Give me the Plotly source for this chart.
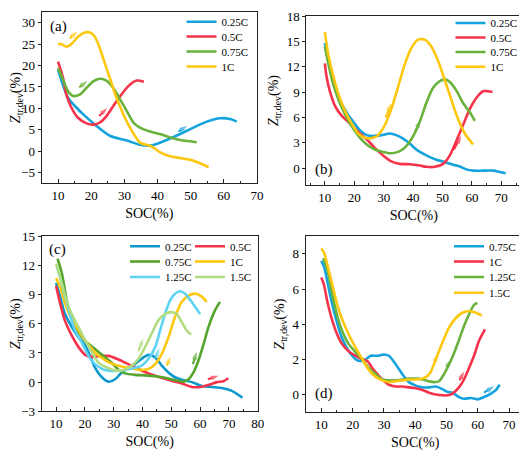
import plotly.graph_objects as go

# ---------------- data: panel (a) ----------------
a_soc_025 = [10, 13, 15.5, 17.6, 21.6, 25.6, 30.7, 34.7, 37.7, 39.7, 42.8, 46.8, 50.8, 54.9, 58.9, 61.9, 63.9]
a_z_025 = [19, 12.5, 10.2, 8.6, 5.9, 3.6, 2.5, 1.5, 1.3, 1.7, 2.6, 4, 5.5, 6.9, 7.7, 7.5, 6.9]
a_soc_05 = [10, 11.5, 12.5, 14, 16, 18.6, 20.6, 22.6, 24.6, 26.6, 28.7, 31.2, 33.7, 35.9]
a_z_05 = [20.9, 17.1, 13.2, 10.2, 7.8, 6.5, 6.2, 6.7, 8.2, 10.5, 12.8, 15.2, 16.5, 16.2]
a_soc_075 = [10, 11.5, 13, 14.5, 16.5, 18.6, 20.6, 22.6, 24.6, 26.6, 28.7, 30.7, 32.7, 34.7, 37.7, 40.7, 43.8, 46.8, 49.8, 51.8]
a_z_075 = [19.4, 16.7, 14, 12.9, 13.2, 14.8, 16.3, 16.9, 16.5, 14.8, 12.1, 9.4, 6.7, 5.5, 4.6, 4, 3.2, 2.6, 2.3, 2.1]
a_soc_1 = [10, 11, 12.5, 14, 16, 18.1, 19.6, 21.1, 22.6, 24.1, 25.6, 27.6, 29.7, 31.7, 34.7, 38.2, 40.7, 43.8, 46.8, 49.8, 52.8, 55.4]
a_z_1 = [25, 25, 24.4, 25, 26.7, 27.7, 27.7, 26.7, 24, 20.5, 17.1, 12.5, 8.6, 5.5, 2, 1.1, -0.2, -1.2, -1.6, -2, -2.8, -3.7]

# ---------------- data: panel (b) ----------------
b_soc_025 = [10, 11.1, 12.8, 15.1, 17.4, 19.6, 21.9, 24.2, 26.4, 29.3, 32.1, 34.3, 36.6, 38.9, 41.1, 43.4, 45.7, 47.9, 50.8, 53.6, 55.9, 58.1, 60.4, 63.8, 67.2, 69.5, 71.5]
b_z_025 = [14.8, 13.1, 10.4, 8.1, 6.6, 5.5, 4.5, 3.9, 3.8, 3.9, 4.1, 3.9, 3.5, 2.9, 2.2, 1.7, 1.3, 1.0, 0.7, 0.4, 0.2, -0.15, -0.3, -0.3, -0.3, -0.45, -0.6]
b_soc_05 = [10, 10.6, 11.7, 13.4, 15.7, 18.5, 21.3, 24.2, 27, 29.8, 32.6, 35.5, 38.9, 42.3, 44.5, 47.4, 50.2, 52.5, 54.7, 57, 59.3, 61.5, 63.8, 65.5, 67]
b_z_05 = [12.4, 10.8, 9.1, 7.4, 6.2, 5.3, 4.3, 3.4, 2.4, 1.5, 0.8, 0.5, 0.45, 0.3, 0.15, 0.15, 0.5, 1.5, 3.2, 5.1, 7.0, 8.3, 9.1, 9.1, 9.0]
b_soc_075 = [10, 11.1, 12.8, 15.1, 17.4, 19.6, 21.9, 24.2, 27, 29.8, 32.6, 35.5, 37.7, 40, 42.3, 44.5, 46.8, 49.1, 50.8, 52.5, 54.7, 57, 59.3, 61]
b_z_075 = [14.4, 12.5, 10, 7.7, 6, 4.7, 3.6, 2.8, 2.2, 1.9, 1.75, 2, 2.6, 3.75, 5.5, 7.7, 9.5, 10.3, 10.5, 10.2, 9.2, 7.7, 6.6, 5.6]
b_soc_1 = [10, 11.1, 12.8, 14.5, 16.8, 19.1, 21.3, 23.6, 25.9, 28.1, 30.4, 32.6, 34.9, 37.2, 39.4, 41.7, 44, 46.2, 48.5, 50.8, 53, 55.3, 57.6, 60.4]
b_z_1 = [16.1, 13.6, 11, 8.9, 6.8, 5.3, 4.1, 3.6, 3.55, 3.9, 5.1, 7, 9.6, 12.3, 14.2, 15.2, 15.2, 14.4, 12.7, 10.4, 8.1, 5.8, 4.1, 2.8]

# ---------------- data: panel (c) ----------------
c_soc_025 = [10, 11.4, 13.1, 15.4, 17.8, 20.1, 21.8, 23.5, 25.9, 28.2, 30.5, 32.8, 35.1, 37.4, 39.7, 42.1, 44.4, 46.7, 49, 51.3, 54.2, 57.1, 60.6, 64, 67.5, 71, 74.7]
c_z_025 = [10.2, 8.8, 7, 5.7, 4.6, 3.8, 2.7, 1.5, 0.5, 0.05, 0.3, 1, 1.5, 1.85, 2.4, 2.8, 2.55, 1.7, 1, 0.5, 0.2, 0, -0.4, -0.5, -0.6, -0.9, -1.6]
c_soc_05 = [10, 11.4, 13.1, 15.4, 17.8, 20.1, 22.4, 25.9, 28.2, 31.1, 34, 36.9, 39.7, 42.6, 45.5, 48.4, 51.3, 54.2, 57.1, 60, 62.9, 65.8, 68.1, 69.8]
c_z_05 = [9.9, 8.1, 6.3, 4.8, 3.6, 2.8, 2.6, 2.7, 2.7, 2.4, 2, 1.6, 1.2, 0.85, 0.55, 0.3, 0.05, -0.2, -0.5, -0.5, -0.3, 0, 0.1, 0.4]
c_soc_075 = [10.5, 12, 13.7, 15.4, 17.8, 20.6, 23.5, 26.4, 29.3, 31.6, 33.9, 37.4, 40.9, 44.4, 47.8, 51.3, 54.2, 56, 57.7, 59.4, 61.2, 62.9, 65.2, 66.9]
c_z_075 = [12.7, 11.2, 8.4, 6.5, 5.1, 4.1, 3.4, 2.7, 2, 1.3, 0.9, 0.75, 0.7, 0.6, 0.45, 0.2, 0.05, 0.3, 1, 2.2, 3.9, 5.65, 7.4, 8.25]
c_soc_1 = [10, 11.4, 13.1, 15.4, 17.8, 20.6, 23.5, 26.4, 29.3, 32.8, 36.3, 39.7, 42.1, 44.4, 46.7, 49, 51.3, 53.6, 56, 58.3, 60.6, 62.3]
c_z_1 = [10.7, 9.8, 8.1, 6.5, 5.3, 4.1, 3.05, 2.4, 1.9, 1.6, 1.4, 1.25, 1.35, 1.85, 2.9, 4.6, 6.7, 8.25, 8.9, 9.1, 8.8, 8.25]
c_soc_125 = [10.2, 11.4, 13.1, 14.9, 16.6, 18.9, 21.2, 23.5, 26.4, 29.3, 32.8, 36.3, 39.7, 42.1, 44.4, 46.1, 47.8, 49.6, 51.3, 53.1, 54.8, 57.1, 60]
c_z_125 = [11.9, 10.8, 8.8, 6.9, 5.3, 4.1, 2.7, 1.85, 1.3, 1.15, 1.2, 1.4, 1.7, 2.4, 3.6, 5.3, 7, 8.4, 9.1, 9.35, 9.1, 8.25, 7]
c_soc_15 = [10, 11.4, 13.1, 15.4, 17.8, 20.1, 22.4, 24.7, 27.6, 30.5, 33.9, 36.3, 38.6, 40.9, 43.2, 45.5, 47.8, 50.2, 51.9, 53.6, 55.4, 56.9]
c_z_15 = [12.2, 10.85, 8.9, 7, 5.65, 4.3, 3.1, 2, 1.5, 1.2, 1.3, 1.7, 2.4, 3.6, 5, 6.35, 7, 7.2, 7, 6.2, 5.3, 4.9]

# ---------------- data: panel (d) ----------------
d_soc_075 = [10, 10.9, 11.9, 13, 14.6, 16.2, 17.8, 19.4, 21, 22.6, 24.2, 25.8, 27.9, 30, 31.6, 33.8, 35.9, 38, 40.2, 42.3, 44.4, 46.6, 48.7, 50.3, 51.9, 54, 55.6, 57.8, 59.9, 62, 64.2, 65.8, 67]
d_z_075 = [7.6, 7.25, 6.45, 5.5, 4.35, 3.4, 2.75, 2.3, 2, 1.9, 2, 2.2, 2.2, 2.27, 2.2, 1.7, 1.15, 0.7, 0.5, 0.4, 0.4, 0.45, 0.3, 0.15, 0.1, -0.15, -0.25, -0.2, -0.28, -0.15, 0.05, 0.25, 0.55]
d_soc_1 = [10, 10.9, 11.9, 13.5, 15.1, 16.7, 18.8, 21, 23.1, 24.7, 26.3, 27.9, 29.5, 31.6, 33.8, 35.9, 38, 40.2, 42.3, 44.4, 46.6, 48.7, 50.3, 51.9, 54, 55.6, 57.2, 58.8, 60.4, 62.3]
d_z_1 = [6.65, 6.2, 5.3, 4.2, 3.4, 2.85, 2.45, 2.2, 2, 1.9, 1.5, 1.15, 0.85, 0.55, 0.45, 0.45, 0.4, 0.35, 0.25, 0.1, 0, -0.05, -0.05, 0.05, 0.4, 0.85, 1.5, 2.2, 3.05, 3.7]
d_soc_125 = [10.6, 11.4, 12.5, 13.5, 15.1, 16.7, 18.8, 21, 23.1, 25.2, 27.4, 29.5, 31.6, 33.8, 35.9, 38, 40.2, 42.3, 44.4, 46, 47.6, 49.2, 50.8, 52.4, 54, 55.6, 57.2, 58.8, 59.9]
d_z_125 = [7.75, 7.4, 6.65, 5.7, 4.45, 3.6, 2.85, 2.4, 2, 1.5, 1.15, 0.85, 0.8, 0.8, 0.85, 0.9, 0.9, 0.85, 0.75, 0.7, 0.75, 1.15, 1.7, 2.35, 3.1, 3.9, 4.55, 5.1, 5.2]
d_soc_15 = [10, 10.9, 11.9, 13.5, 15.1, 16.7, 18.8, 21, 23.1, 25.2, 27.4, 29.5, 31.6, 33.8, 35.9, 38, 40.2, 42.3, 43.9, 45, 46.6, 48.7, 50.8, 53, 55.1, 57.2, 59.4, 61.3]
d_z_15 = [8.3, 8.05, 7.4, 6.25, 5.1, 4.25, 3.4, 2.65, 2, 1.4, 1, 0.8, 0.7, 0.75, 0.8, 0.85, 0.85, 0.9, 1.05, 1.3, 2, 2.95, 3.8, 4.35, 4.65, 4.75, 4.65, 4.5]

# colours
C_BLUE, C_RED, C_GREEN, C_YELLOW = "#14a3dc", "#f5334a", "#69b23c", "#fdc70e"
C_BLUE_D, C_GREEN_D, C_CYAN, C_LGREEN = "#0e98cc", "#55a52c", "#5fd3f2", "#b3dc82"

# direction arrows: (colour, tail_x, tail_y, head_x, head_y)
arrows_a = [(C_YELLOW, 13.5, 26.3, 15.8, 28.0), (C_GREEN, 16.4, 14.9, 18.8, 16.4),
            (C_RED, 22.4, 8.2, 24.8, 10.1), (C_BLUE, 46.3, 4.6, 48.9, 5.9)]
arrows_b = [(C_YELLOW, 30.7, 6.0, 32.6, 7.7), (C_GREEN, 40.6, 4.25, 42.5, 5.7),
            (C_RED, 53.9, 2.2, 56.4, 3.8)]
arrows_c = [(C_LGREEN, 38.6, 3.2, 40.3, 4.5), (C_CYAN, 44.6, 2.5, 45.8, 3.5),
            (C_YELLOW, 48.4, 1.7, 49.8, 2.6), (C_GREEN_D, 57.5, 1.85, 58.8, 3.1),
            (C_RED, 62.7, 0.3, 66.4, 0.65)]
arrows_d = [(C_YELLOW, 46.0, 1.8, 47.3, 2.3), (C_GREEN, 50.0, 1.55, 51.6, 2.0),
            (C_RED, 54.2, 0.8, 55.6, 1.3), (C_BLUE, 62.0, 0.1, 65.2, 0.47)]

# ---------------- figure ----------------
OFF = 8                      # default page margin around the plot div
W, H = 527 - OFF, 455 - OFF
FONT = "Liberation Serif"
fig = go.Figure()


def fx(px):
    return (px - OFF) / W


def fy(py):
    return 1 - (py - OFF) / H


# panel boxes in window pixels: (left, right, top, bottom)
panels = {
    1: (41.5, 257.0, 12.0, 183.3),
    2: (306.3, 521.3, 16.0, 185.0),
    3: (41.7, 257.7, 236.3, 411.3),
    4: (305.7, 524.7, 236.3, 412.0),
}

series = [
    # panel, x, y, name, colour, legend left px, legend row y px
    (1, a_soc_025, a_z_025, "0.25C", C_BLUE, 181.5, 21.7),
    (1, a_soc_05, a_z_05, "0.5C", C_RED, 181.5, 36.5),
    (1, a_soc_075, a_z_075, "0.75C", C_GREEN, 181.5, 51.5),
    (1, a_soc_1, a_z_1, "1C", C_YELLOW, 181.5, 66.5),
    (2, b_soc_025, b_z_025, "0.25C", C_BLUE, 450.5, 23.0),
    (2, b_soc_05, b_z_05, "0.5C", C_RED, 450.5, 37.5),
    (2, b_soc_075, b_z_075, "0.75C", C_GREEN, 450.5, 52.0),
    (2, b_soc_1, b_z_1, "1C", C_YELLOW, 450.5, 66.8),
    (3, c_soc_025, c_z_025, "0.25C", C_BLUE_D, 125.0, 246.3),
    (3, c_soc_05, c_z_05, "0.5C", C_RED, 190.0, 246.3),
    (3, c_soc_075, c_z_075, "0.75C", C_GREEN_D, 125.0, 261.5),
    (3, c_soc_1, c_z_1, "1C", C_YELLOW, 190.0, 261.5),
    (3, c_soc_125, c_z_125, "1.25C", C_CYAN, 125.0, 277.0),
    (3, c_soc_15, c_z_15, "1.5C", C_LGREEN, 190.0, 277.0),
    (4, d_soc_075, d_z_075, "0.75C", C_BLUE, 449.0, 246.3),
    (4, d_soc_1, d_z_1, "1C", C_RED, 449.0, 261.5),
    (4, d_soc_125, d_z_125, "1.25C", C_GREEN, 449.0, 277.0),
    (4, d_soc_15, d_z_15, "1.5C", C_YELLOW, 449.0, 292.7),
]

layout_legends = {}
for i, (p, xs, ys, name, col, lx, ly) in enumerate(series):
    lg = "legend" if i == 0 else f"legend{i + 1}"
    ax = "" if p == 1 else str(p)
    fig.add_trace(go.Scatter(
        x=xs, y=ys, name=name, mode="lines",
        line=dict(color=col, width=2.6, shape="spline", smoothing=0.7),
        xaxis="x" + ax, yaxis="y" + ax, legend=lg, showlegend=True))
    layout_legends[lg] = dict(
        x=fx(lx), y=fy(ly), xanchor="left", yanchor="middle",
        bgcolor="rgba(0,0,0,0)", borderwidth=0, itemwidth=30,
        font=dict(family=FONT, size=11, color="black"), tracegroupgap=0)

# direction arrows drawn as short lines ending with an arrow marker
for p, arr in [(1, arrows_a), (2, arrows_b), (3, arrows_c), (4, arrows_d)]:
    ax = "" if p == 1 else str(p)
    for col, x0, y0, x1, y1 in arr:
        fig.add_trace(go.Scatter(
            x=[x0, x1], y=[y0, y1], mode="lines+markers", showlegend=False, hoverinfo="skip",
            line=dict(color=col, width=2),
            marker=dict(symbol="arrow", size=[0, 8], angleref="previous", color=col,
                        line=dict(width=0)),
            xaxis="x" + ax, yaxis="y" + ax))

x_ranges = {1: [5, 70], 2: [3.7, 76.8], 3: [5, 80], 4: [5, 75]}
y_ranges = {1: [-7.5, 32.5], 2: [-2, 18], 3: [-3, 15], 4: [-1, 9]}
y_dticks = {1: 5, 2: 3, 3: 3, 4: 2}

layout = dict(width=W, height=H, margin=dict(l=0, r=0, t=0, b=0, autoexpand=False),
              paper_bgcolor="white", plot_bgcolor="white",
              font=dict(family=FONT, size=13, color="black"))
for p, (l, r, t, b) in panels.items():
    sfx = "" if p == 1 else str(p)
    layout["xaxis" + sfx] = dict(
        domain=[fx(l), fx(r)], anchor="y" + sfx, range=x_ranges[p], automargin=False,
        dtick=10, tick0=0, ticks="inside", ticklen=4, tickcolor="#222",
        minor=dict(ticks="inside", ticklen=2, dtick=5, tick0=0, tickcolor="#222", showgrid=False),
        showline=True, linecolor="#222", linewidth=1, mirror=True,
        showgrid=False, zeroline=False, ticklabeloverflow="allow",
        tickfont=dict(family=FONT, size=13, color="black"),
        title=dict(text="SOC(%)", font=dict(family=FONT, size=14, color="black"), standoff=6))
    layout["yaxis" + sfx] = dict(
        domain=[fy(b), fy(t)], anchor="x" + sfx, range=y_ranges[p], automargin=False,
        dtick=y_dticks[p], tick0=0, ticks="outside", ticklen=3, tickcolor="#222",
        showline=True, linecolor="#222", linewidth=1, mirror=True,
        showgrid=False, zeroline=False, ticklabeloverflow="allow",
        tickfont=dict(family=FONT, size=13, color="black"),
        title=dict(text="<i>Z</i><sub>tr,dev</sub>(%)", font=dict(family=FONT, size=14, color="black"),
                   standoff=4))
layout.update(layout_legends)

annotations = []
labels = [(1, "(a)", 0.077, 0.915), (2, "(b)", 0.083, 0.09), (3, "(c)", 0.075, 0.925), (4, "(d)", 0.084, 0.105)]
for p, txt, lxf, lyf in labels:
    sfx = "" if p == 1 else str(p)
    annotations.append(dict(text=txt, xref=f"x{sfx} domain", yref=f"y{sfx} domain", x=lxf, y=lyf,
                            showarrow=False, xanchor="center", yanchor="middle",
                            font=dict(family=FONT, size=15, color="black")))
layout["annotations"] = annotations
fig.update_layout(**layout)
fig.write_html("out.html")
